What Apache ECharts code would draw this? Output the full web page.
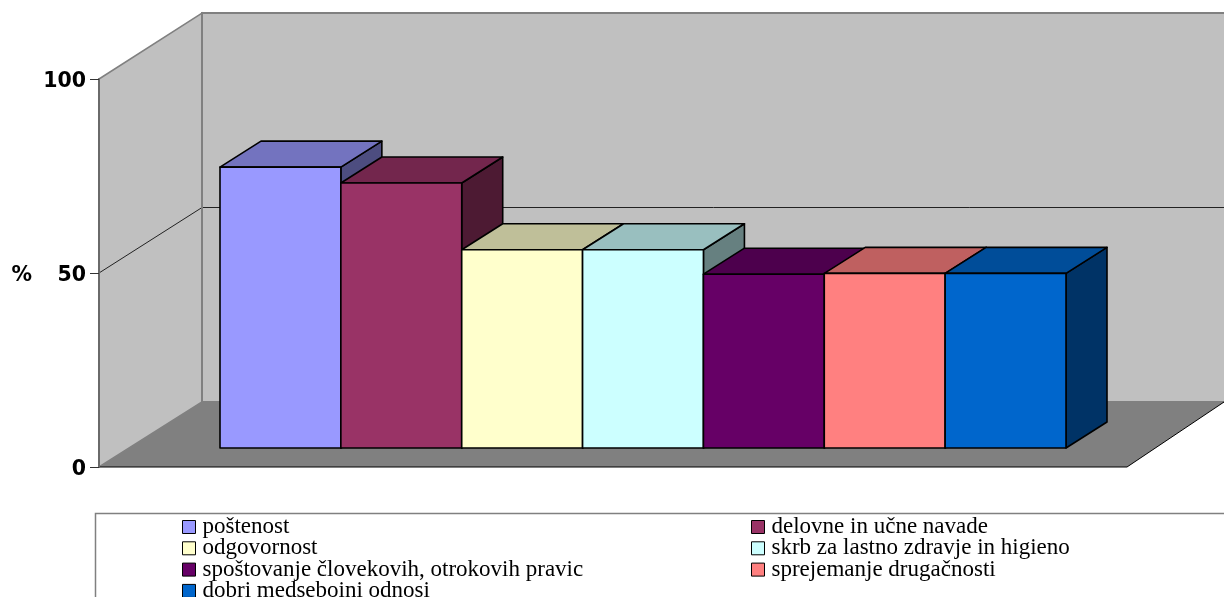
<!DOCTYPE html>
<html><head><meta charset="utf-8">
<style>html,body{margin:0;padding:0;background:#fff;overflow:hidden}#c{width:1224px;height:597px}</style>
<script src="https://cdn.jsdelivr.net/npm/echarts@6/dist/echarts.min.js"></script>
</head><body><div id="c"></div>
<script>
const categories = ['poštenost','delovne in učne navade','odgovornost','skrb za lastno zdravje in higieno','spoštovanje človekovih, otrokovih pravic','sprejemanje drugačnosti','dobri medseboini odnosi'];
const values = [72.4, 68.3, 51.1, 51.1, 44.8, 45, 45];
const colors = ['#9999FF','#993366','#FFFFCC','#CCFFFF','#660066','#FF8080','#0066CC'];
const yTicks = {min:0,max:100,interval:50};
const DX = 41, DY = -26;

function shade(hex,f){
  const n=parseInt(hex.slice(1),16);
  return 'rgb('+[(n>>16)&255,(n>>8)&255,n&255].map(v=>Math.round(v*f)).join(',')+')';
}
function renderBar(color){
  return function(params,api){
    const top=api.coord([api.value(0),api.value(1)]);
    const base=api.coord([api.value(0),0]);
    const w=api.size([1,0])[0];
    const l=top[0]-w/2, r=top[0]+w/2, t=top[1], b=base[1];
    const stroke={stroke:'#000',lineWidth:1.6,lineJoin:'round'};
    return {type:'group',children:[
      {type:'polygon',shape:{points:[[r,t],[r+DX,t+DY],[r+DX,b+DY],[r,b]]},style:Object.assign({fill:shade(color,0.5)},stroke)},
      {type:'polygon',shape:{points:[[l,t],[l+DX,t+DY],[r+DX,t+DY],[r,t]]},style:Object.assign({fill:shade(color,0.75)},stroke)},
      {type:'rect',shape:{x:l,y:t,width:w,height:b-t},style:Object.assign({fill:color},stroke)}
    ]};
  };
}
const legendText={fontFamily:'Liberation Serif',fontSize:23,color:'#000',lineHeight:15,padding:[0,0,0,2]};
const legendBase={orient:'vertical',icon:'rect',itemWidth:13,itemHeight:13,itemGap:-1.7,padding:0,height:200,
  itemStyle:{borderColor:'#000',borderWidth:1},textStyle:legendText,selectedMode:false};

const chart=echarts.init(document.getElementById('c'),null,{renderer:'canvas'});
chart.setOption({
  animation:false,
  backgroundColor:'#fff',
  grid:[
    {left:220,width:846,top:60,height:388},
    {left:99,width:1028,top:79,height:388}
  ],
  xAxis:[
    {type:'category',data:categories,gridIndex:0,show:false},
    {type:'category',data:categories,gridIndex:1,show:false}
  ],
  yAxis:[
    {type:'value',gridIndex:0,min:yTicks.min,max:yTicks.max,show:false},
    {type:'value',gridIndex:1,min:yTicks.min,max:yTicks.max,interval:yTicks.interval,
     name:'%',nameLocation:'middle',nameRotate:0,nameGap:67,
     nameTextStyle:{fontFamily:'DejaVu Sans',fontWeight:'bold',fontSize:20.5,color:'#000',verticalAlign:'top',lineHeight:5},
     axisLine:{show:true,lineStyle:{color:'#6a6a6a',width:2}},
     axisTick:{show:true,length:9,lineStyle:{color:'#333',width:1}},
     axisLabel:{margin:13,fontFamily:'DejaVu Sans',fontWeight:'bold',fontSize:20.5,color:'#000',verticalAlign:'top',lineHeight:5},
     splitLine:{show:false},z:3}
  ],
  legend:[
    Object.assign({},legendBase,{left:182,top:515.5,data:categories.filter((c,i)=>i%2===0)}),
    Object.assign({},legendBase,{left:751,top:515.5,data:categories.filter((c,i)=>i%2===1)})
  ],
  graphic:{elements:[
    {type:'polygon',z:-10,silent:true,shape:{points:[[99,79],[202,13],[202,402],[99,467]]},style:{fill:'#C0C0C0',stroke:'#808080',lineWidth:1.5}},
    {type:'rect',z:-10,silent:true,shape:{x:202,y:13,width:1100,height:389},style:{fill:'#C0C0C0',stroke:'#808080',lineWidth:2}},
    {type:'polygon',z:-9,silent:true,shape:{points:[[99,467],[202,402],[1224,402],[1127,467]]},style:{fill:'#808080'}},
    {type:'polyline',z:-8,silent:true,shape:{points:[[99,273],[202,207.5],[1240,207.5]]},style:{stroke:'#222',lineWidth:1,fill:null}},
    {type:'polyline',z:-8,silent:true,shape:{points:[[202,13],[202,402],[1240,402]]},style:{stroke:'#808080',lineWidth:2,fill:null}},
    {type:'polyline',z:-8,silent:true,shape:{points:[[99,467],[1127,467],[1224,402]]},style:{stroke:'#000',lineWidth:1,fill:null}},
    {type:'rect',z:-8,silent:true,shape:{x:95.5,y:513.5,width:1250,height:200},style:{fill:'#fff',stroke:'#808080',lineWidth:1.5}}
  ]},
  series:categories.map((name,i)=>({
    name,type:'custom',xAxisIndex:0,yAxisIndex:0,silent:true,clip:false,
    itemStyle:{color:colors[i]},
    renderItem:renderBar(colors[i]),
    encode:{x:0,y:1},
    data:[[i,values[i]]]
  }))
});
</script></body></html>
